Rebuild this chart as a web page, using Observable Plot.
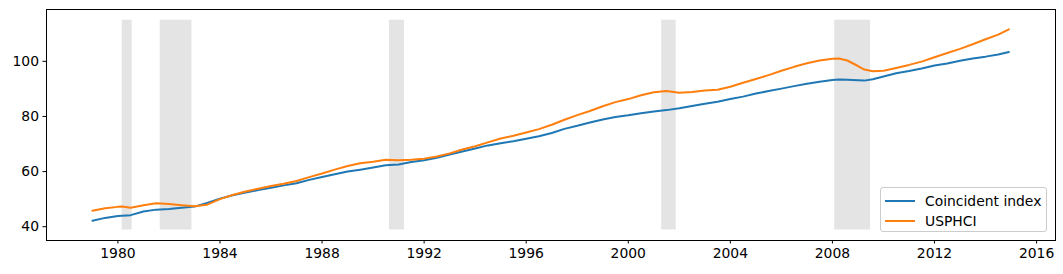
<!DOCTYPE html>
<html><head><meta charset="utf-8">
<script src="https://cdn.jsdelivr.net/npm/d3@7"></script>
<script src="https://cdn.jsdelivr.net/npm/@observablehq/plot@0.6"></script>
<style>
body{margin:0;background:#fff;}
#chart{position:relative;width:1063px;height:274px;}
#legend{position:absolute;left:880px;top:187px;width:165px;height:43px;border:1px solid #cccccc;border-radius:3px;background:rgba(255,255,255,0.8);font-family:"DejaVu Sans";font-size:13.9px;color:#000;}
.item{position:absolute;left:4px;height:20px;display:flex;align-items:center;}
.item svg{display:block;margin-right:10px;}
</style>
</head><body><div id="chart"><div id="legend"></div></div>
<script>
const dates = [
"1979-01","1979-07","1980-01","1980-03","1980-07","1981-01","1981-07","1982-01","1982-07","1983-01","1983-07",
"1984-01","1984-07","1985-01","1985-07","1986-01","1986-07","1987-01","1987-07","1988-01","1988-07",
"1989-01","1989-07","1990-01","1990-07","1991-01","1991-07","1992-01","1992-07","1993-01","1993-07",
"1994-01","1994-07","1995-01","1995-07","1996-01","1996-07","1997-01","1997-07","1998-01","1998-07",
"1999-01","1999-07","2000-01","2000-07","2001-01","2001-07","2002-01","2002-07","2003-01","2003-07",
"2004-01","2004-07","2005-01","2005-07","2006-01","2006-07","2007-01","2007-07","2008-01","2008-04",
"2008-08","2009-01","2009-04","2009-08","2010-01","2010-07","2011-01","2011-07","2012-01","2012-07",
"2013-01","2013-07","2014-01","2014-07","2014-12"];
const coincident = [
42.2,43.2,43.9,44.0,44.2,45.5,46.2,46.4,46.9,47.3,48.6,
50.2,51.4,52.4,53.3,54.1,55.0,55.8,57.0,58.0,59.0,
60.0,60.7,61.5,62.3,62.6,63.5,64.1,65.0,66.2,67.3,
68.4,69.5,70.3,71.0,71.9,72.8,74.0,75.5,76.6,77.8,
78.9,79.8,80.4,81.2,81.8,82.3,83.0,83.8,84.6,85.3,
86.3,87.2,88.3,89.2,90.1,91.0,91.9,92.6,93.2,93.4,
93.3,93.1,93.0,93.5,94.5,95.7,96.5,97.4,98.5,99.2,
100.2,101.0,101.7,102.5,103.4];
const usphci = [
45.8,46.7,47.2,47.3,46.9,47.8,48.5,48.2,47.8,47.4,48.0,
50.0,51.5,52.8,53.8,54.8,55.6,56.6,58.0,59.3,60.7,
62.0,63.0,63.6,64.3,64.1,64.3,64.7,65.5,66.6,68.0,
69.2,70.6,72.0,73.0,74.2,75.4,77.0,78.8,80.5,82.0,
83.7,85.2,86.3,87.7,88.8,89.2,88.6,88.9,89.4,89.7,
90.8,92.2,93.6,95.0,96.6,98.0,99.3,100.3,100.9,101.0,
100.3,98.3,97.0,96.4,96.6,97.6,98.7,99.9,101.5,103.0,
104.5,106.2,108.0,109.7,111.6];
const recessionStart = ["1980-03-03","1981-08-29","1990-08-22","2001-04-23","2008-02-03"];
const recessionEnd   = ["1980-07-23","1982-11-25","1991-03-25","2001-11-17","2009-07-01"];
const shadeLow = 38.8, shadeHigh = 114.9;
const xTickYears = [1980,1984,1988,1992,1996,2000,2004,2008,2012,2016];
const yTicks = [40,60,80,100];
const seriesNames = ["Coincident index","USPHCI"];
const seriesColors = ["#1f77b4","#ff7f0e"];

const parseM = d3.utcParse("%Y-%m");
const parseD = d3.utcParse("%Y-%m-%d");
const rows = [];
dates.forEach((d,i)=>{ rows.push({date: parseM(d), value: coincident[i], series: seriesNames[0]}); });
dates.forEach((d,i)=>{ rows.push({date: parseM(d), value: usphci[i], series: seriesNames[1]}); });
const rec = recessionStart.map((s,i)=>({x1: parseD(s), x2: parseD(recessionEnd[i]), y1: shadeLow, y2: shadeHigh}));
const xTicks = xTickYears.map(y=>new Date(Date.UTC(y,0,1)));

const plot = Plot.plot({
  width: 1063, height: 274,
  marginLeft: 46, marginRight: 8, marginTop: 9, marginBottom: 34,
  style: {fontFamily: "DejaVu Sans", fontSize: "13.9px", color: "black", background: "white"},
  x: {type: "utc", domain: [new Date(Date.UTC(1977,2,15)), new Date(Date.UTC(2016,8,28))]},
  y: {domain: [35.0, 118.8]},
  color: {domain: seriesNames, range: seriesColors},
  marks: [
    Plot.rect(rec, {x1: "x1", x2: "x2", y1: "y1", y2: "y2", fill: "#e4e4e4"}),
    Plot.line(rows, {x: "date", y: "value", stroke: "series", z: "series", strokeWidth: 2}),
    Plot.frame({stroke: "black", strokeWidth: 1}),
    Plot.axisX({ticks: xTicks, tickFormat: d3.utcFormat("%Y"), tickSize: 3.5, tickPadding: 4, fontSize: 13.9, label: null}),
    Plot.axisY({ticks: yTicks, tickSize: 3.5, tickPadding: 4, fontSize: 13.9, label: null})
  ]
});
const chart = document.getElementById("chart");
chart.insertBefore(plot, chart.firstChild);

// legend (lower right, inside axes)
const legend = document.getElementById("legend");
seriesNames.forEach((n,i)=>{
  const item = document.createElement("div");
  item.className = "item";
  item.style.top = (3 + i*20) + "px";
  item.innerHTML = `<svg width="30" height="4"><line x1="0" x2="30" y1="2" y2="2" stroke="${seriesColors[i]}" stroke-width="2"/></svg><span>${n}</span>`;
  legend.appendChild(item);
});
</script>
</body></html>
